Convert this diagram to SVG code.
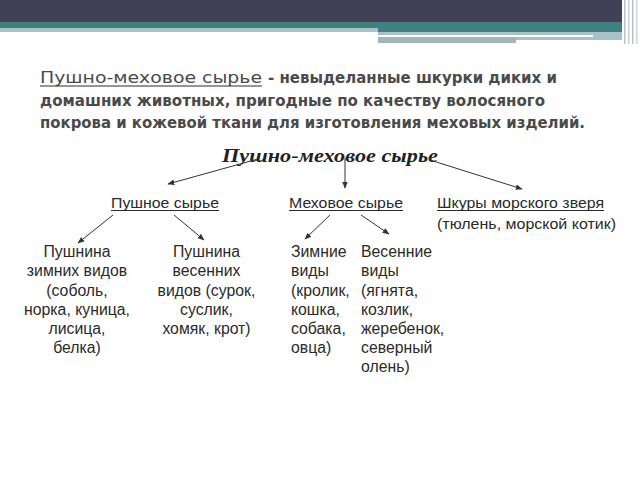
<svg xmlns="http://www.w3.org/2000/svg" width="640" height="480" viewBox="0 0 640 480">
<defs>
<marker id="ah" viewBox="0 0 10 10" refX="9" refY="5" markerWidth="7" markerHeight="7" orient="auto" markerUnits="userSpaceOnUse">
<path d="M0,1 L10,5 L0,9 z" fill="#333"/>
</marker>
<style>
.hd{font-family:"DejaVu Sans",sans-serif;font-size:16px;fill:#4a4a4a;}
.hb{font-weight:bold;}
.t2{font-family:"Liberation Serif",serif;font-size:19px;font-weight:bold;font-style:italic;fill:#222;}
.lb{font-family:"Liberation Sans",Arial,sans-serif;font-size:15px;fill:#2a2a2a;}
.l3{font-size:15.8px;}
.c{text-anchor:middle;}
.ul{stroke:#2a2a2a;stroke-width:1;}
.cn line{stroke:#333;stroke-width:1;marker-end:url(#ah);}
</style>
</defs>
<rect width="640" height="480" fill="#fff"/>
<g id="header">
<rect x="0" y="0" width="622" height="22" fill="#414155"/>
<rect x="0" y="22" width="622" height="6" fill="#3f8080"/>
<rect x="0" y="28" width="378" height="4" fill="#a8c4c4"/>
<rect x="378" y="28" width="244" height="4" fill="#3f8080"/>
<rect x="378" y="32" width="244" height="8" fill="#a9c1c6"/>
<rect x="378" y="35" width="215" height="2" fill="#ffffff"/>
<rect x="378" y="37" width="138" height="6" fill="#a0b5bc"/>
<rect x="624" y="0" width="1.5" height="44" fill="#b8c4c8"/>
<rect x="628" y="0" width="1.5" height="44" fill="#c8d0d4"/>
<rect x="632" y="0" width="1.5" height="44" fill="#b8c4c8"/>
<rect x="636" y="0" width="1.5" height="44" fill="#d0d8da"/>
</g>
<g id="definition">
<text class="hd" x="40" y="83" textLength="222" lengthAdjust="spacingAndGlyphs">Пушно-меховое сырье</text>
<line class="ul" x1="40" y1="86" x2="262" y2="86" stroke="#4a4a4a"/>
<text class="hd hb" x="268" y="83" textLength="289" lengthAdjust="spacingAndGlyphs">- невыделанные шкурки диких и</text>
<text class="hd hb" x="40" y="106" textLength="505" lengthAdjust="spacingAndGlyphs">домашних животных, пригодные по качеству волосяного</text>
<text class="hd hb" x="40" y="128" textLength="545" lengthAdjust="spacingAndGlyphs">покрова и кожевой ткани для изготовления меховых изделий.</text>
</g>
<g id="root">
<text class="t2" x="222" y="162" textLength="216" lengthAdjust="spacingAndGlyphs">Пушно-меховое сырье</text>
</g>
<g id="pushnoe">
<text class="lb" x="111" y="208" textLength="108" lengthAdjust="spacingAndGlyphs">Пушное сырье</text>
<line class="ul" x1="111" y1="210.5" x2="219" y2="210.5"/>
</g>
<g id="mekhovoe">
<text class="lb" x="289" y="208" textLength="114" lengthAdjust="spacingAndGlyphs">Меховое сырье</text>
<line class="ul" x1="289" y1="210.5" x2="403" y2="210.5"/>
</g>
<g id="morskoy">
<text class="lb" x="437" y="208" textLength="167" lengthAdjust="spacingAndGlyphs">Шкуры морского зверя</text>
<line class="ul" x1="437" y1="210.5" x2="604" y2="210.5"/>
<text class="lb" x="437" y="229" textLength="179" lengthAdjust="spacingAndGlyphs">(тюлень, морской котик)</text>
</g>
<g id="zimnie-pushnina">
<text class="lb l3 c" x="77" y="257">Пушнина</text>
<text class="lb l3 c" x="77" y="276">зимних видов</text>
<text class="lb l3 c" x="77" y="295.5">(соболь,</text>
<text class="lb l3 c" x="77" y="314.5">норка, куница,</text>
<text class="lb l3 c" x="77" y="333.5">лисица,</text>
<text class="lb l3 c" x="77" y="353">белка)</text>
</g>
<g id="vesennie-pushnina">
<text class="lb l3 c" x="206.5" y="257">Пушнина</text>
<text class="lb l3 c" x="206.5" y="276">весенних</text>
<text class="lb l3 c" x="206.5" y="295.5">видов (сурок,</text>
<text class="lb l3 c" x="206.5" y="314.5">суслик,</text>
<text class="lb l3 c" x="206.5" y="333.5">хомяк, крот)</text>
</g>
<g id="zimnie-vidy">
<text class="lb l3" x="291" y="257">Зимние</text>
<text class="lb l3" x="291" y="276">виды</text>
<text class="lb l3" x="291" y="295.5">(кролик,</text>
<text class="lb l3" x="291" y="314.5">кошка,</text>
<text class="lb l3" x="291" y="333.5">собака,</text>
<text class="lb l3" x="291" y="353">овца)</text>
</g>
<g id="vesennie-vidy">
<text class="lb l3" x="361" y="257">Весенние</text>
<text class="lb l3" x="361" y="276">виды</text>
<text class="lb l3" x="361" y="295.5">(ягнята,</text>
<text class="lb l3" x="361" y="314.5">козлик,</text>
<text class="lb l3" x="361" y="333.5">жеребенок,</text>
<text class="lb l3" x="361" y="353">северный</text>
<text class="lb l3" x="361" y="372">олень)</text>
</g>
<g id="connectors" class="cn">
<line x1="258" y1="159" x2="168" y2="184"/>
<line x1="345" y1="158" x2="345" y2="188"/>
<line x1="430" y1="160" x2="522" y2="189"/>
<line x1="113" y1="215" x2="78" y2="243"/>
<line x1="174" y1="215" x2="204" y2="240"/>
<line x1="330" y1="215" x2="305" y2="239"/>
<line x1="361" y1="215" x2="389" y2="234"/>
</g>
</svg>
